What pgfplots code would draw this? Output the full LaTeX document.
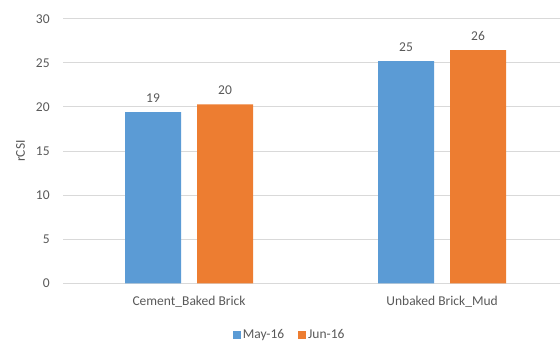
\documentclass[border=0pt]{standalone}
\usepackage{fontspec}
\setmainfont{Carlito}
\usepackage{pgfplots}
\pgfplotsset{compat=1.18}

\definecolor{mayblue}{HTML}{5B9BD5}
\definecolor{junorange}{HTML}{ED7D31}
\definecolor{labelgray}{HTML}{595959}
\definecolor{gridgray}{HTML}{D9D9D9}
\newcommand\chartfont{\fontsize{13.5bp}{16bp}\selectfont}

\begin{document}
\begin{tikzpicture}
\path[use as bounding box] (0,0) rectangle (560bp,341bp);
\begin{axis}[
  at={(63bp,57.7bp)}, anchor=south west,
  scale only axis, width=497bp, height=264.6bp,
  ybar=16bp, bar width=56bp,
  xmin=-0.498, xmax=1.466,
  ymin=0, ymax=30,
  xtick={0,1},
  xticklabels={Cement\_Baked Brick, Unbaked Brick\_Mud},
  ytick={0,5,...,30},
  major tick length=0pt,
  axis line style={draw=none},
  ymajorgrids,
  grid style={gridgray, line width=0.9bp},
  /pgf/number format/assume math mode=true,
  tick label style={font=\chartfont, text=labelgray},
  yticklabel style={xshift=-9.8bp},
  xticklabel style={yshift=-9bp},
  ylabel={rCSI},
  ylabel style={font=\chartfont, text=labelgray, at={(axis description cs:-0.0855,0.5)}, anchor=center},
  nodes near coords,
  nodes near coords style={font=\chartfont, text=labelgray, anchor=south, yshift=6bp,
    /pgf/number format/fixed, /pgf/number format/precision=0},
  legend columns=2,
  legend style={at={(0.456,-0.195)}, anchor=center, draw=none, fill=none,
    font=\chartfont, text=labelgray,
    /tikz/every even column/.append style={column sep=12bp}},
  legend image code/.code={\fill[#1] (0bp,-4bp) rectangle (8bp,4bp);},
]
% rCSI by wall material
\addplot[fill=mayblue, draw=none] coordinates {(0,19.42) (1,25.2)};
\addplot[fill=junorange, draw=none] coordinates {(0,20.3) (1,26.45)};
\legend{May-16, Jun-16}
\end{axis}
\end{tikzpicture}
\end{document}
